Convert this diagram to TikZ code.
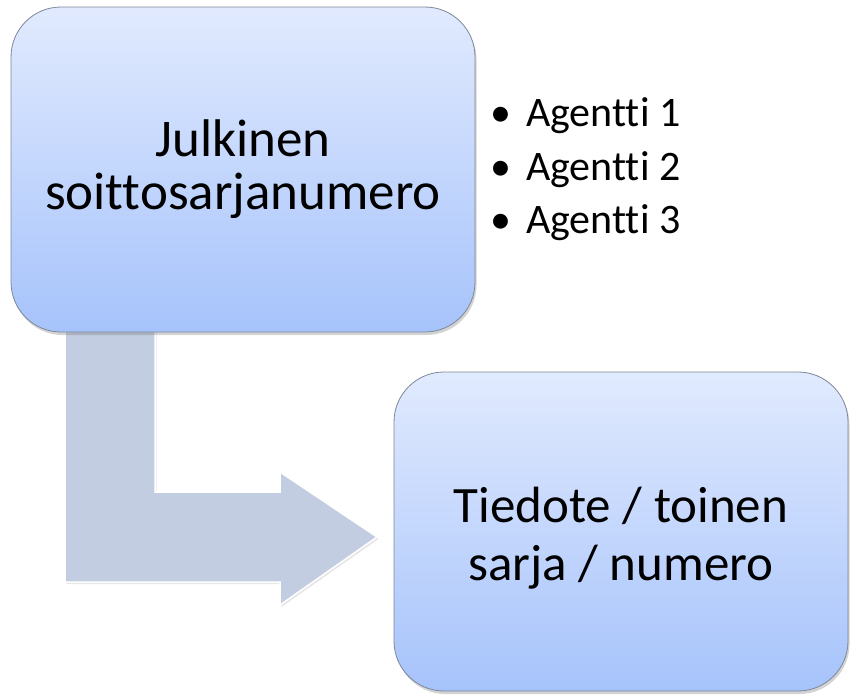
\documentclass[tikz,border=0pt]{standalone}
\usepackage{fontspec}
\setmainfont{Carlito}[Ligatures=NoCommon]
\usetikzlibrary{shadows}
\definecolor{boxtop}{HTML}{E1EAFE}
\definecolor{boxbot}{HTML}{A6C3FB}
\definecolor{boxline}{HTML}{7D8799}
\definecolor{arrowfill}{HTML}{C3CDE1}
\tikzset{
  stagebox/.style={draw=boxline, line width=0.8pt, rounded corners=50pt,
    top color=boxtop, bottom color=boxbot, align=center, inner sep=0pt,
    drop shadow={opacity=0.35, shadow xshift=1.5pt, shadow yshift=-3pt}},
  boxtext/.style={align=center, inner sep=0pt},
  bentarrow/.style={fill=arrowfill, draw=white, line width=1.5pt,
    drop shadow={opacity=0.2, shadow xshift=1.5pt, shadow yshift=-2pt}},
  bullet/.style={anchor=base west, inner sep=0pt,
    font=\fontsize{42}{50}\selectfont}
}
\begin{document}
\begin{tikzpicture}[x=1pt,y=-1pt]
\useasboundingbox (0,0) rectangle (850,694);
% bent arrow
\path[bentarrow] (65,320) -- (155,320) -- (155,492) -- (280,492) -- (280,472)
  -- (377,537) -- (280,605) -- (280,582) -- (65,582) -- cycle;
% boxes
\node[stagebox, minimum width=464pt, minimum height=325pt,
  font=\fontsize{53}{53}\selectfont] (pub) at (243,169.5)
  {Julkinen\\soittosarjanumero};
\node[stagebox, minimum width=454pt, minimum height=319pt] (ann) at (621,531.5) {};
\node[boxtext, font=\fontsize{51}{58}\selectfont, yshift=-7pt] (anntext) at (ann.center)
  {Tiedote / toinen\\sarja / numero};
\node[bullet] (ag1) at (490,126) {•\hspace{15pt}Agentti 1};
\node[bullet] (ag2) at (490,180) {•\hspace{15pt}Agentti 2};
\node[bullet] (ag3) at (490,233) {•\hspace{15pt}Agentti 3};
\end{tikzpicture}
\end{document}
